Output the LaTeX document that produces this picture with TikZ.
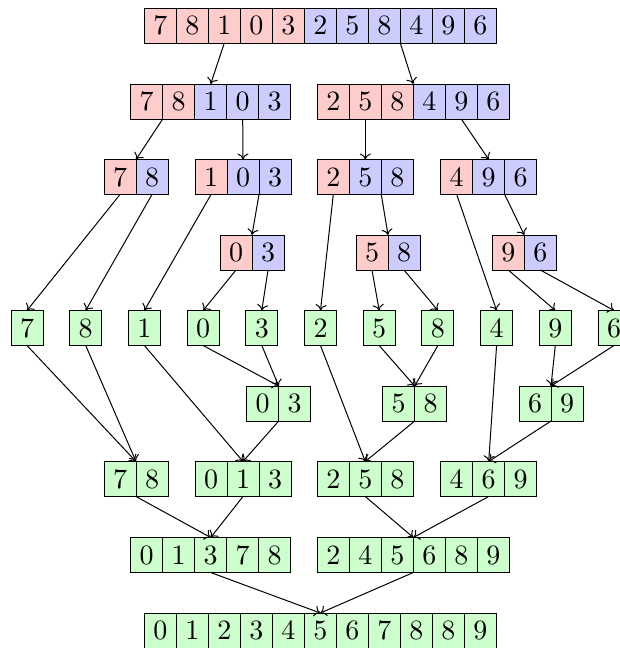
\documentclass[tikz,border=0pt]{standalone}
\usetikzlibrary{arrows.meta}
\definecolor{rd}{RGB}{255,204,204}
\definecolor{bl}{RGB}{204,204,255}
\definecolor{gr}{RGB}{204,255,204}
\font\bigdig=cmr10 at 28pt
\tikzset{
  cell/.style={draw=black, line width=1pt, minimum width=32pt, minimum height=35pt,
    inner sep=0pt, outer sep=0pt, anchor=north west, font=\bigdig},
  whole/.style={draw=none, inner sep=0pt, outer sep=0pt, minimum height=35pt, anchor=north west},
  link/.style={-{Computer Modern Rightarrow[length=6pt,width=11pt]}, line width=1pt},
}
% #1 name, #2 x, #3 y, #4 width, #5 fill, #6 list
\newcommand\arrgrp[6]{%
  \node[whole, minimum width=#4] (#1) at (#2,#3) {};
  \foreach \d [count=\i from 0] in {#6} {
    \node[cell, fill=#5] (#1-\i) at ({#2+32*\i},#3) {\d};
  }
}
\newcommand\wholegrp[4]{\node[whole, minimum width=#4] (#1) at (#2,#3) {};}
\begin{document}
\begin{tikzpicture}[x=1pt,y=-1pt]
\useasboundingbox (0,0) rectangle (620,648);
% row 1
\wholegrp{t}{144.3}{8}{352pt}
\arrgrp{tL}{144.3}{8}{160pt}{rd}{7,8,1,0,3}
\arrgrp{tR}{304.3}{8}{192pt}{bl}{2,5,8,4,9,6}
% row 2
\wholegrp{a}{130.7}{84}{160pt}
\arrgrp{aL}{130.7}{84}{64pt}{rd}{7,8}
\arrgrp{aR}{194.7}{84}{96pt}{bl}{1,0,3}
\wholegrp{b}{317.3}{84}{192pt}
\arrgrp{bL}{317.3}{84}{96pt}{rd}{2,5,8}
\arrgrp{bR}{413.3}{84}{96pt}{bl}{4,9,6}
% row 3
\wholegrp{c1}{104}{159.5}{64pt}
\arrgrp{c1L}{104}{159.5}{32pt}{rd}{7}
\arrgrp{c1R}{136}{159.5}{32pt}{bl}{8}
\wholegrp{c2}{195}{159.5}{96pt}
\arrgrp{c2L}{195}{159.5}{32pt}{rd}{1}
\arrgrp{c2R}{227}{159.5}{64pt}{bl}{0,3}
\wholegrp{c3}{317.3}{159.5}{96pt}
\arrgrp{c3L}{317.3}{159.5}{32pt}{rd}{2}
\arrgrp{c3R}{349.3}{159.5}{64pt}{bl}{5,8}
\wholegrp{c4}{440.7}{159.5}{96pt}
\arrgrp{c4L}{440.7}{159.5}{32pt}{rd}{4}
\arrgrp{c4R}{472.7}{159.5}{64pt}{bl}{9,6}
% row 4
\wholegrp{d1}{220}{235}{64pt}
\arrgrp{d1L}{220}{235}{32pt}{rd}{0}
\arrgrp{d1R}{252}{235}{32pt}{bl}{3}
\wholegrp{d2}{356}{235}{64pt}
\arrgrp{d2L}{356}{235}{32pt}{rd}{5}
\arrgrp{d2R}{388}{235}{32pt}{bl}{8}
\wholegrp{d3}{492.3}{235}{64pt}
\arrgrp{d3L}{492.3}{235}{32pt}{rd}{9}
\arrgrp{d3R}{524.3}{235}{32pt}{bl}{6}
% row 5 singles
\arrgrp{s7}{11}{310.5}{32pt}{gr}{7}
\arrgrp{s8a}{69.7}{310.5}{32pt}{gr}{8}
\arrgrp{s1}{128.4}{310.5}{32pt}{gr}{1}
\arrgrp{s0}{187.1}{310.5}{32pt}{gr}{0}
\arrgrp{s3}{245.8}{310.5}{32pt}{gr}{3}
\arrgrp{s2}{304.5}{310.5}{32pt}{gr}{2}
\arrgrp{s5}{363.2}{310.5}{32pt}{gr}{5}
\arrgrp{s8b}{421.9}{310.5}{32pt}{gr}{8}
\arrgrp{s4}{480.6}{310.5}{32pt}{gr}{4}
\arrgrp{s9}{539.3}{310.5}{32pt}{gr}{9}
\arrgrp{s6}{598}{310.5}{32pt}{gr}{6}
% row 6
\arrgrp{e1}{246.7}{386}{64pt}{gr}{0,3}
\arrgrp{e2}{382.7}{386}{64pt}{gr}{5,8}
\arrgrp{e3}{519}{386}{64pt}{gr}{6,9}
% row 7
\arrgrp{f1}{104}{461.5}{64pt}{gr}{7,8}
\arrgrp{f2}{195}{461.5}{96pt}{gr}{0,1,3}
\arrgrp{f3}{317.3}{461.5}{96pt}{gr}{2,5,8}
\arrgrp{f4}{440.7}{461.5}{96pt}{gr}{4,6,9}
% row 8
\arrgrp{g1}{130.7}{537.5}{160pt}{gr}{0,1,3,7,8}
\arrgrp{g2}{317.3}{537.5}{192pt}{gr}{2,4,5,6,8,9}
% row 9
\arrgrp{h}{144.3}{613}{352pt}{gr}{0,1,2,3,4,5,6,7,8,8,9}
% split connectors
\draw[link] (tL.south) -- (a.north);
\draw[link] (tR.south) -- (b.north);
\draw[link] (aL.south) -- (c1.north);
\draw[link] (aR.south) -- (c2.north);
\draw[link] (bL.south) -- (c3.north);
\draw[link] (bR.south) -- (c4.north);
\draw[link] (c1L.south) -- (s7.north);
\draw[link] (c1R.south) -- (s8a.north);
\draw[link] (c2L.south) -- (s1.north);
\draw[link] (c2R.south) -- (d1.north);
\draw[link] (c3L.south) -- (s2.north);
\draw[link] (c3R.south) -- (d2.north);
\draw[link] (c4L.south) -- (s4.north);
\draw[link] (c4R.south) -- (d3.north);
\draw[link] (d1L.south) -- (s0.north);
\draw[link] (d1R.south) -- (s3.north);
\draw[link] (d2L.south) -- (s5.north);
\draw[link] (d2R.south) -- (s8b.north);
\draw[link] (d3L.south) -- (s9.north);
\draw[link] (d3R.south) -- (s6.north);
% merge connectors
\draw[link] (s0.south) -- (e1.north);
\draw[link] (s3.south) -- (e1.north);
\draw[link] (s5.south) -- (e2.north);
\draw[link] (s8b.south) -- (e2.north);
\draw[link] (s9.south) -- (e3.north);
\draw[link] (s6.south) -- (e3.north);
\draw[link] (s7.south) -- (f1.north);
\draw[link] (s8a.south) -- (f1.north);
\draw[link] (s1.south) -- (f2.north);
\draw[link] (e1.south) -- (f2.north);
\draw[link] (s2.south) -- (f3.north);
\draw[link] (e2.south) -- (f3.north);
\draw[link] (s4.south) -- (f4.north);
\draw[link] (e3.south) -- (f4.north);
\draw[link] (f1.south) -- (g1.north);
\draw[link] (f2.south) -- (g1.north);
\draw[link] (f3.south) -- (g2.north);
\draw[link] (f4.south) -- (g2.north);
\draw[link] (g1.south) -- (h.north);
\draw[link] (g2.south) -- (h.north);
\end{tikzpicture}
\end{document}
